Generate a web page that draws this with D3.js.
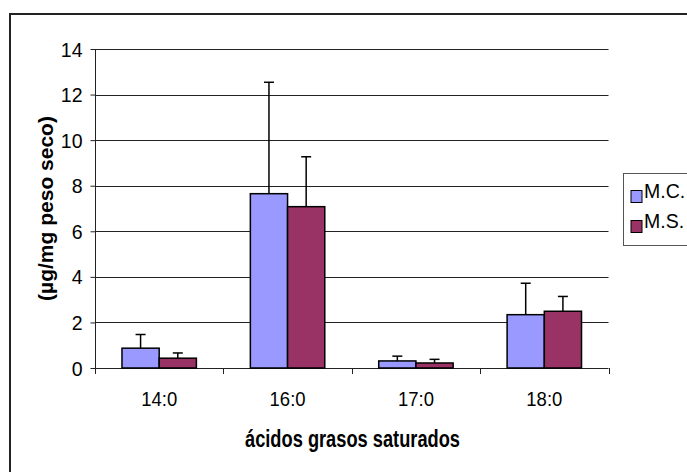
<!DOCTYPE html>
<html>
<head>
<meta charset="utf-8">
<script src="https://cdn.jsdelivr.net/npm/d3@7"></script>
<style>
  html, body { margin: 0; padding: 0; background: #fff; }
  svg { display: block; }
  text { font-family: Arial, "Liberation Sans", sans-serif; fill: #000; }
</style>
</head>
<body>
<svg id="chart" width="687" height="472"></svg>
<script>
// ---- data ----
const categories = ["14:0", "16:0", "17:0", "18:0"];
const seriesNames = ["M.C.", "M.S."];
const mcValues = [0.87, 7.65, 0.31, 2.34];
const msValues = [0.43, 7.08, 0.22, 2.49];
const mcErrors = [0.60, 4.89, 0.21, 1.38];
const msErrors = [0.23, 2.19, 0.16, 0.65];
const yTicks = [0, 2, 4, 6, 8, 10, 12, 14];
const xTitle = "ácidos grasos saturados";
const yTitle = "(µg/mg peso seco)";
const colors = ["#9999FF", "#993366"];

(function () {
const seriesValues = [mcValues, msValues];
const seriesErrors = [mcErrors, msErrors];

const svg = d3.select("#chart");

// outer frame (cut off on right and bottom)
svg.append("rect")
  .attr("x", 10).attr("y", 14)
  .attr("width", 700).attr("height", 480)
  .attr("fill", "#fff").attr("stroke", "#222").attr("stroke-width", 2);

const pLeft = 95, pRight = 608.5, pTop = 49, pBottom = 368;

const x0 = d3.scaleBand().domain(categories).range([pLeft, pRight]).paddingInner(0).paddingOuter(0);
const x1 = d3.scaleBand().domain(seriesNames).range([0, x0.bandwidth()]).paddingInner(0).paddingOuter(0.725);
const y = d3.scaleLinear().domain([0, 14]).range([pBottom, pTop]);

// gridlines
svg.append("g")
  .selectAll("line")
  .data(yTicks.filter(d => d > 0))
  .join("line")
  .attr("x1", pLeft).attr("x2", pRight)
  .attr("y1", d => Math.round(y(d)) + 0.5).attr("y2", d => Math.round(y(d)) + 0.5)
  .attr("stroke", "#222").attr("stroke-width", 1);

// y axis
const yAxis = svg.append("g")
  .attr("transform", `translate(${pLeft + 0.5},0)`)
  .call(d3.axisLeft(y).tickValues(yTicks).tickSize(5).tickPadding(8).tickFormat(d3.format("d")));
yAxis.select(".domain").remove();
yAxis.selectAll("line").attr("stroke", "#222");
yAxis.selectAll("text").style("font-size", "19.5px").attr("dy", "0.36em");
svg.append("line")
  .attr("x1", pLeft + 0.5).attr("x2", pLeft + 0.5)
  .attr("y1", pTop).attr("y2", pBottom + 6)
  .attr("stroke", "#222").attr("stroke-width", 1);

// x axis
svg.append("line")
  .attr("x1", pLeft).attr("x2", pRight)
  .attr("y1", Math.round(pBottom) + 0.5).attr("y2", Math.round(pBottom) + 0.5)
  .attr("stroke", "#222").attr("stroke-width", 1);
const boundaries = categories.map(c => x0(c)).concat([x0(categories[categories.length - 1]) + x0.bandwidth()]);
svg.append("g").selectAll("line")
  .data(boundaries.slice(1))
  .join("line")
  .attr("x1", d => Math.round(d) + 0.5).attr("x2", d => Math.round(d) + 0.5)
  .attr("y1", pBottom).attr("y2", pBottom + 6)
  .attr("stroke", "#222").attr("stroke-width", 1);
svg.append("g").selectAll("text")
  .data(categories)
  .join("text")
  .attr("x", d => x0(d) + x0.bandwidth() / 2)
  .attr("y", 406)
  .attr("text-anchor", "middle")
  .attr("textLength", 36).attr("lengthAdjust", "spacingAndGlyphs")
  .style("font-size", "19.5px")
  .text(d => d);

// bars
const groups = svg.append("g").selectAll("g")
  .data(categories)
  .join("g")
  .attr("transform", d => `translate(${x0(d)},0)`);

groups.selectAll("rect")
  .data((d, i) => seriesNames.map((s, j) => ({ s, j, v: seriesValues[j][i], e: seriesErrors[j][i] })))
  .join("rect")
  .attr("x", d => x1(d.s))
  .attr("y", d => y(d.v))
  .attr("width", x1.bandwidth())
  .attr("height", d => y(0) - y(d.v))
  .attr("fill", d => colors[d.j])
  .attr("stroke", "#000").attr("stroke-width", 1.5);

// error bars (upper only)
const eb = groups.selectAll("g.err")
  .data((d, i) => seriesNames.map((s, j) => ({ s, j, v: seriesValues[j][i], e: seriesErrors[j][i] })))
  .join("g").attr("class", "err");
eb.append("line")
  .attr("x1", d => x1(d.s) + x1.bandwidth() / 2).attr("x2", d => x1(d.s) + x1.bandwidth() / 2)
  .attr("y1", d => y(d.v)).attr("y2", d => y(d.v + d.e))
  .attr("stroke", "#000").attr("stroke-width", 1.5);
eb.append("line")
  .attr("x1", d => x1(d.s) + x1.bandwidth() / 2 - 5).attr("x2", d => x1(d.s) + x1.bandwidth() / 2 + 5)
  .attr("y1", d => y(d.v + d.e)).attr("y2", d => y(d.v + d.e))
  .attr("stroke", "#000").attr("stroke-width", 1.5);

// axis titles
svg.append("text")
  .attr("x", 352.5).attr("y", 446.5)
  .attr("text-anchor", "middle")
  .attr("textLength", 215).attr("lengthAdjust", "spacingAndGlyphs")
  .style("font-size", "23px").style("font-weight", "bold")
  .text(xTitle);
svg.append("text")
  .attr("transform", "translate(45,208.5) rotate(-90)")
  .attr("text-anchor", "middle")
  .attr("dy", "0.36em")
  .style("font-size", "21px").style("font-weight", "bold")
  .text(yTitle);

// legend
const lg = svg.append("g");
lg.append("rect")
  .attr("x", 623.5).attr("y", 173.5).attr("width", 80).attr("height", 72)
  .attr("fill", "#fff").attr("stroke", "#555").attr("stroke-width", 1);
const legendRows = lg.selectAll("g")
  .data(seriesNames)
  .join("g")
  .attr("transform", (d, i) => `translate(0,${i * 30})`);
legendRows.append("rect")
  .attr("x", 631).attr("y", 190.5).attr("width", 11).attr("height", 12)
  .attr("fill", (d, i) => colors[i]).attr("stroke", "#000").attr("stroke-width", 1);
legendRows.append("text")
  .attr("x", 644).attr("y", 197.5)
  .style("font-size", "19.5px")
  .text(d => d);
})();
</script>
</body>
</html>
